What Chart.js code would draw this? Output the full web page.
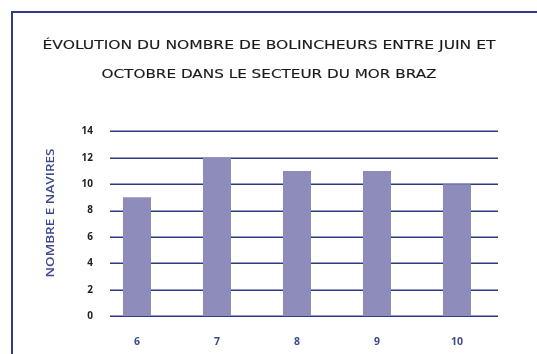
<!DOCTYPE html>
<html lang="fr">
<head>
<meta charset="utf-8">
<title>Bolincheurs Mor Braz</title>
<script src="https://cdn.jsdelivr.net/npm/chart.js@4"></script>
<style>
  html, body { margin: 0; padding: 0; background: #fff; }
  #wrap { position: relative; width: 537px; height: 354px; overflow: hidden; }
  #frame {
    position: absolute; left: 11px; top: 11px; width: 600px; height: 400px;
    border-top: 2px solid #2f3b86; border-left: 2px solid #2f3b86;
  }
  #chart { position: absolute; left: 0; top: 0; }
</style>
</head>
<body>
<div id="wrap">
  <div id="frame"></div>
  <canvas id="chart" width="537" height="354"></canvas>
</div>
<script>
const months = ['6', '7', '8', '9', '10'];
const vessels = [9, 12, 11, 11, 10];
const titleLines = ['ÉVOLUTION DU NOMBRE DE BOLINCHEURS ENTRE JUIN ET', 'OCTOBRE DANS LE SECTEUR DU MOR BRAZ'];
const yTitle = 'NOMBRE E NAVIRES';

const FONT = '"Open Sans", "Noto Sans", sans-serif';
const HEAD_FONT = '"DejaVu Sans", "Open Sans", sans-serif';

// horizontal rules start a little right of the plot's left edge
const gridLines = {
  id: 'gridLines',
  beforeDatasetsDraw(chart) {
    const { ctx, chartArea, scales } = chart;
    ctx.save();
    ctx.strokeStyle = '#2c3785';
    ctx.lineWidth = 1.5;
    scales.y.ticks.forEach(t => {
      const y = Math.round(scales.y.getPixelForValue(t.value)) + 0.25;
      ctx.beginPath();
      ctx.moveTo(110, y);
      ctx.lineTo(chartArea.right + 1, y);
      ctx.stroke();
    });
    ctx.restore();
  }
};

// draw centred text stretched or squeezed to the given width
function fitText(ctx, text, x, y, width, outline) {
  const w = ctx.measureText(text).width;
  ctx.save();
  ctx.translate(x, y);
  ctx.scale(width / w, 1);
  ctx.fillText(text, 0, 0);
  if (outline) {
    ctx.lineWidth = outline;
    ctx.strokeStyle = ctx.fillStyle;
    ctx.strokeText(text, 0, 0);
  }
  ctx.restore();
}

// heading centred on the frame, and the rotated y-axis caption
const texts = {
  id: 'texts',
  afterDraw(chart) {
    const { ctx } = chart;
    ctx.save();
    ctx.fillStyle = '#1a1a1a';
    ctx.font = '13px ' + HEAD_FONT;
    ctx.textAlign = 'center';
    ctx.textBaseline = 'middle';
    fitText(ctx, titleLines[0], 269, 46, 453, 0.15);
    fitText(ctx, titleLines[1], 269, 75, 335, 0.15);

    ctx.translate(51, 213);
    ctx.rotate(-Math.PI / 2);
    ctx.font = '600 11px ' + FONT;
    ctx.fillStyle = '#3b4a8f';
    fitText(ctx, yTitle, 0, 0, 129);
    ctx.restore();
  }
};

new Chart(document.getElementById('chart').getContext('2d'), {
  type: 'bar',
  data: {
    labels: months,
    datasets: [{
      data: vessels,
      backgroundColor: '#8e8cbb',
      borderWidth: 0,
      categoryPercentage: 1,
      barPercentage: 0.35
    }]
  },
  options: {
    responsive: false,
    animation: false,
    layout: { padding: { left: 0, right: 40, top: 131.3, bottom: 0 } },
    plugins: {
      legend: { display: false },
      tooltip: { enabled: false },
      title: { display: false }
    },
    scales: {
      x: {
        grid: { display: false },
        border: { display: false },
        ticks: { color: '#3d4b8f', padding: 11, font: { family: FONT, size: 10.5, weight: '700' } },
        afterFit(scale) { scale.height = 37.7; }
      },
      y: {
        min: 0,
        max: 14,
        grid: { display: false },
        border: { display: false },
        ticks: { stepSize: 2, color: '#1e1e1e', padding: -4, font: { family: FONT, size: 10, weight: '700' } },
        afterFit(scale) { scale.width = 97; }
      }
    }
  },
  plugins: [gridLines, texts]
});
</script>
</body>
</html>
